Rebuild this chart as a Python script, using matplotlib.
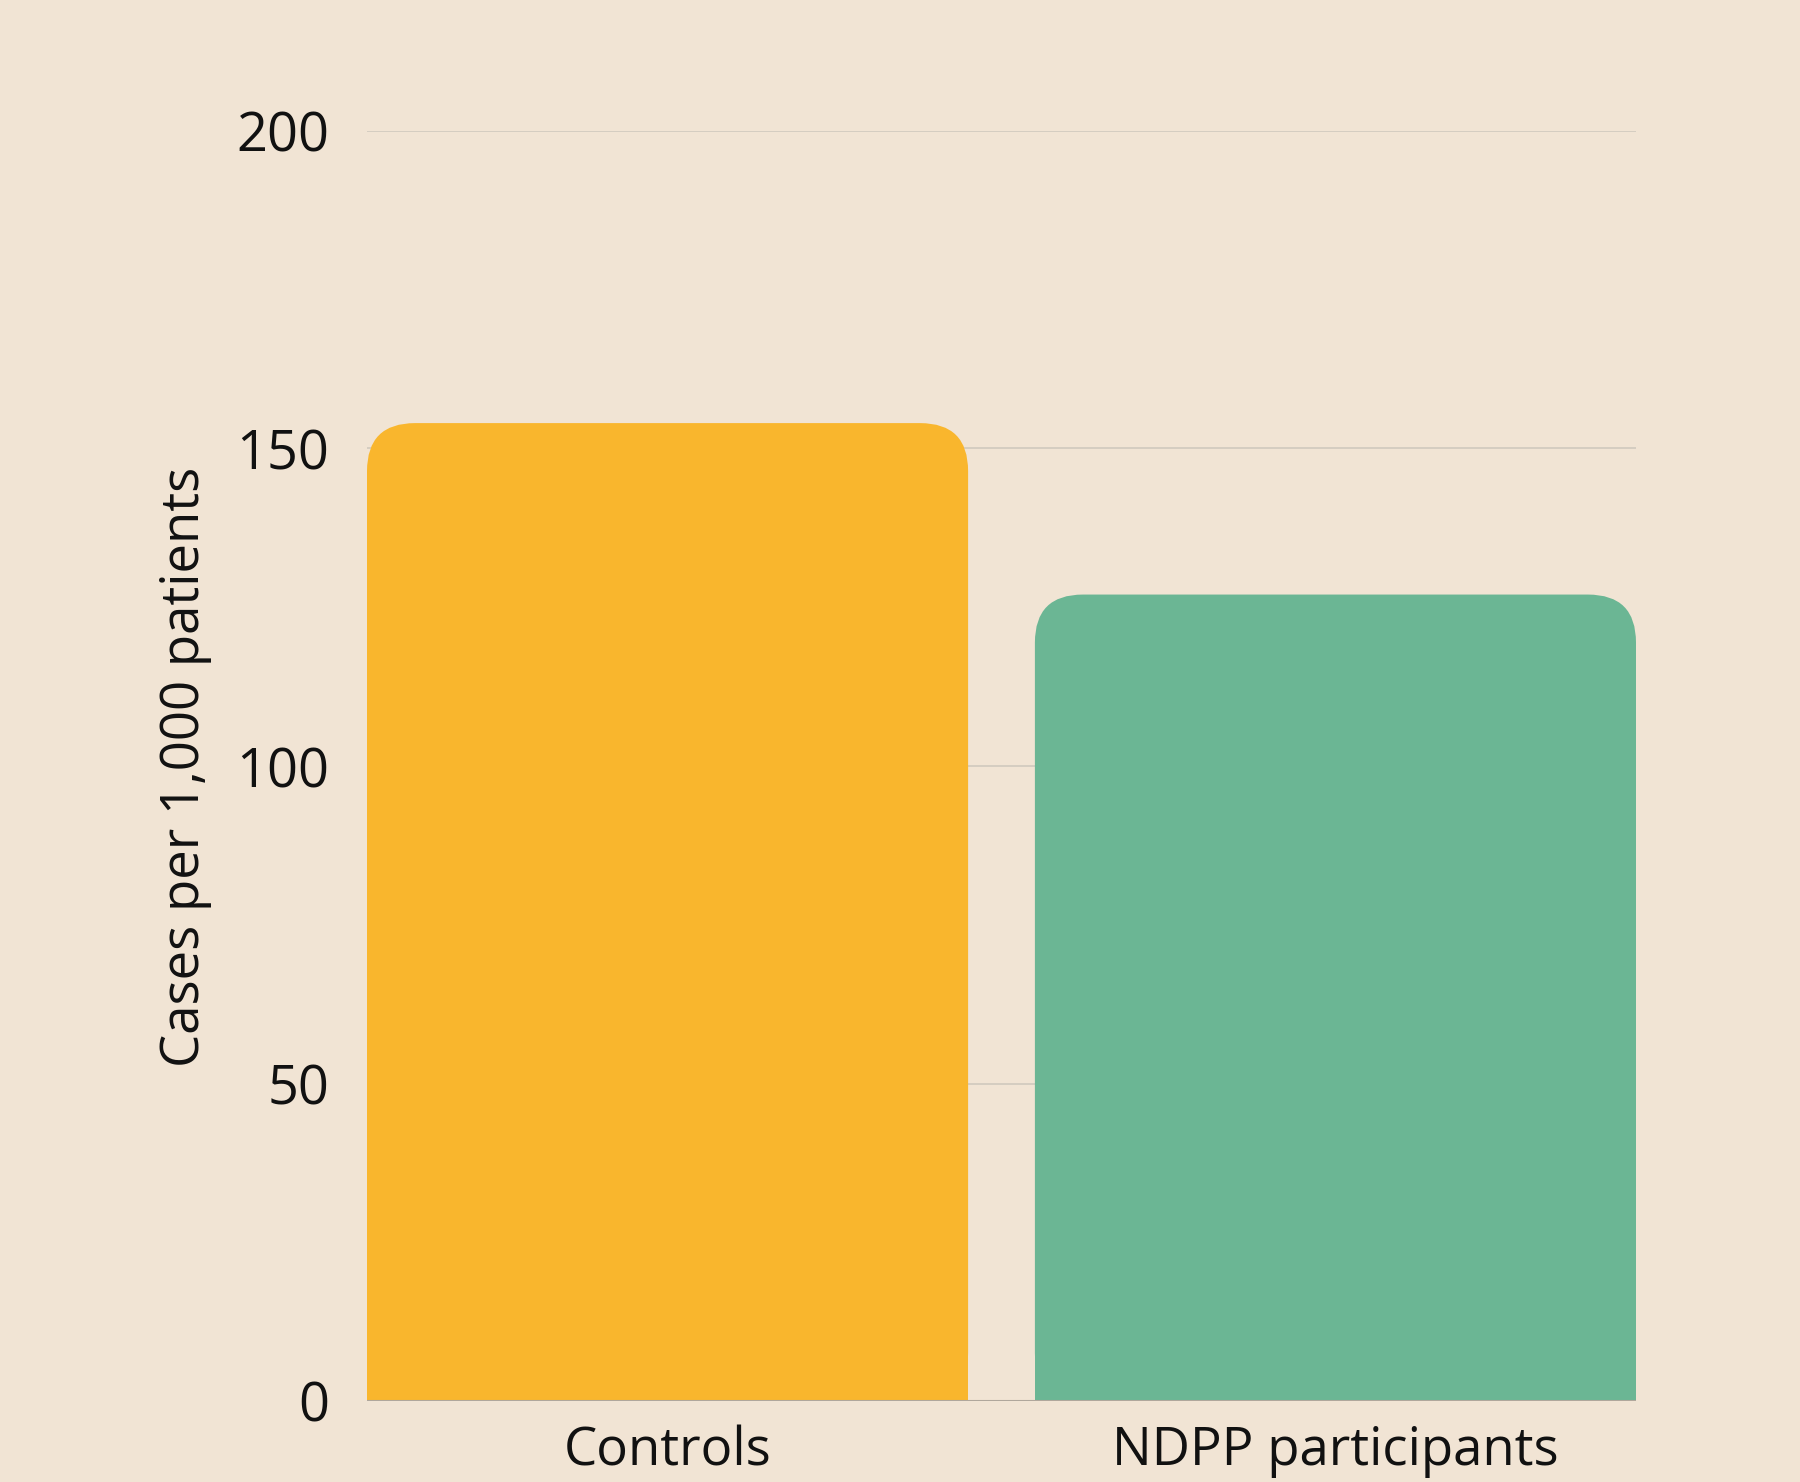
import matplotlib
matplotlib.use("Agg")
import matplotlib.pyplot as plt
from matplotlib.patches import FancyBboxPatch

categories = ["Controls", "NDPP participants"]
cases = [154, 127]
colors = ["#f9b62d", "#6bb694"]
yticks = [0, 50, 100, 150, 200]

bg = "#f1e4d4"
plt.rcParams["font.family"] = ["Open Sans", "DejaVu Sans"]

fig = plt.figure(figsize=(18, 14.82), dpi=100, facecolor=bg)
ax = fig.add_axes([367 / 1800, 1 - 1401 / 1482, 1269 / 1800, 1270 / 1482])
ax.set_facecolor(bg)

width = 0.9
ax.set_xlim(-0.45, 1.45)
ax.set_ylim(0, 200)

# corner radius in pixels, converted to data units on each axis
r_px = 48
x_per_px = 1.9 / 1269
y_per_px = 200 / 1270
rx = r_px * x_per_px
ry = r_px * y_per_px

for i, (val, c) in enumerate(zip(cases, colors)):
    ax.bar(i, val - ry, width=width, color=c, zorder=2, linewidth=0)
    p = FancyBboxPatch((i - width / 2, 0), width, val,
                       boxstyle="round,pad=0,rounding_size=%f" % rx,
                       mutation_aspect=ry / rx,
                       facecolor=c, edgecolor="none", zorder=2)
    ax.add_patch(p)

for y in yticks[1:]:
    ax.axhline(y, color="#d3cbbf", lw=1.3, zorder=1)
ax.axhline(0, color="#b0a79c", lw=1.5, zorder=3)

for s in ax.spines.values():
    s.set_visible(False)

ax.set_yticks(yticks)
ax.set_yticklabels([str(t) for t in yticks], fontsize=39)
ax.set_xticks(range(len(categories)))
ax.set_xticklabels(categories, fontsize=38)
ax.tick_params(axis="y", length=0, pad=27, labelcolor="#111111")
ax.tick_params(axis="x", length=0, pad=17, labelcolor="#111111")

fig.text(185 / 1800, 1 - 767 / 1482, "Cases per 1,000 patients",
         rotation=90, ha="center", va="center", fontsize=38, color="#111111")

fig.savefig("out.png", dpi=100, facecolor=bg)
